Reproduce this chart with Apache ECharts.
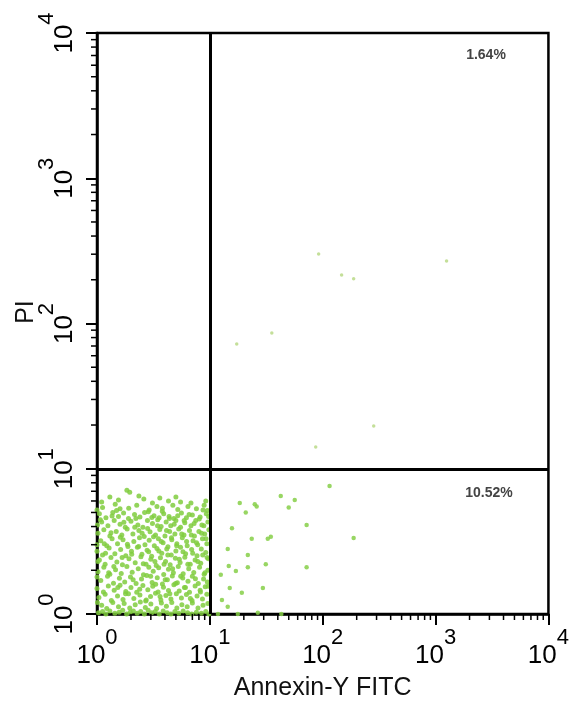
<!DOCTYPE html>
<html>
<head>
<meta charset="utf-8">
<script src="https://cdn.jsdelivr.net/npm/echarts@6/dist/echarts.min.js"></script>
<style>
  html, body { margin: 0; padding: 0; background: #fff; }
  #chart { width: 572px; height: 709px; }
</style>
</head>
<body>
<div id="chart"></div>
<script>
// Annexin V / PI flow cytometry dot plot, log-log, quadrant gates at 10.
const FONT = "'Liberation Sans', Arial, sans-serif";

const decadeExponents = [0, 1, 2, 3, 4];
const xAxisTitle = 'Annexin-Y FITC';
const yAxisTitle = 'PI';
const gateX = 10;
const gateY = 10;
const upperRightPercent = '1.64%';
const lowerRightPercent = '10.52%';

// Live cells (Annexin-, PI-)
const lowerLeft = [
  [1.84,7.1],[1.95,6.9],[3.1,5.8],[2.6,6.2],[4.3,6.0],[5.5,5.9],[8.7,5.2],[1.3,6.4],
  [1.12,5.4],[1.45,5.7],[1.6,5.3],[2.25,5.6],[2.9,5.2],[3.4,5.5],[3.8,5.35],[4.7,5.6],[5.2,5.25],[6.4,5.5],[7.6,5.3],[8.9,5.6],[9.5,5.15],
  [1.05,4.9],[1.2,4.6],[1.38,5.0],[1.55,4.7],[1.72,4.95],[1.9,4.55],[2.15,4.85],[2.4,4.65],[2.85,5.05],[3.2,4.75],[3.55,4.6],[3.9,4.9],[4.35,4.7],[4.8,4.55],[5.6,4.95],[6.2,4.6],[7.0,4.8],[8.2,4.65],[9.3,4.9],
  [1.1,4.3],[1.25,4.05],[1.42,4.4],[1.6,4.15],[1.78,3.95],[2.0,4.35],[2.3,4.1],[2.55,3.95],[2.8,4.4],[3.1,4.2],[3.45,4.45],[3.7,4.0],[4.1,4.3],[4.5,4.05],[5.0,4.4],[5.5,3.95],[6.0,4.25],[6.8,4.05],[7.5,4.4],[8.5,4.1],[9.6,4.3],
  [1.02,3.6],[1.15,3.8],[1.3,3.45],[1.48,3.7],[1.66,3.5],[1.85,3.85],[2.08,3.55],[2.35,3.75],[2.62,3.42],[2.95,3.68],[3.3,3.5],[3.6,3.82],[4.0,3.45],[4.4,3.7],[4.9,3.55],[5.3,3.85],[5.9,3.5],[6.6,3.75],[7.3,3.45],[8.0,3.7],[9.0,3.55],[9.8,3.8],
  [1.08,3.2],[1.22,2.95],[1.36,3.3],[1.52,3.05],[1.7,3.25],[1.88,2.92],[2.12,3.15],[2.38,3.35],[2.66,3.0],[2.9,3.22],[3.22,2.95],[3.5,3.3],[3.85,3.1],[4.25,2.9],[4.6,3.25],[5.1,3.05],[5.7,3.35],[6.3,2.95],[7.1,3.2],[7.8,3.0],[8.6,3.3],[9.4,3.05],
  [1.0,2.7],[1.12,2.55],[1.28,2.85],[1.44,2.6],[1.62,2.78],[1.8,2.52],[2.02,2.7],[2.28,2.88],[2.5,2.58],[2.78,2.75],[3.05,2.5],[3.4,2.82],[3.75,2.62],[4.15,2.8],[4.55,2.55],[5.0,2.72],[5.5,2.88],[6.1,2.6],[6.9,2.78],[7.7,2.52],[8.4,2.8],[9.2,2.65],
  [1.05,2.35],[1.18,2.2],[1.33,2.45],[1.5,2.28],[1.68,2.18],[1.92,2.4],[2.18,2.25],[2.45,2.48],[2.72,2.2],[3.0,2.38],[3.35,2.16],[3.65,2.44],[4.05,2.3],[4.45,2.18],[4.95,2.42],[5.45,2.26],[6.0,2.46],[6.7,2.2],[7.4,2.35],[8.3,2.24],[9.7,2.4],
  [1.02,1.95],[1.15,2.1],[1.3,1.88],[1.46,2.02],[1.64,1.9],[1.84,2.12],[2.05,1.94],[2.32,2.05],[2.58,1.86],[2.88,2.1],[3.15,1.97],[3.52,2.08],[3.9,1.87],[4.3,2.03],[4.75,1.92],[5.25,2.12],[5.8,1.89],[6.5,2.05],[7.2,1.93],[8.1,2.1],[8.9,1.88],[9.6,2.0],
  [1.08,1.7],[1.24,1.82],[1.4,1.63],[1.58,1.76],[1.76,1.66],[1.98,1.8],[2.22,1.62],[2.48,1.74],[2.76,1.84],[3.08,1.65],[3.42,1.78],[3.8,1.61],[4.2,1.72],[4.65,1.83],[5.15,1.64],[5.75,1.77],[6.4,1.68],[7.0,1.82],[7.9,1.62],[8.8,1.74],[9.5,1.66],
  [1.0,1.5],[1.14,1.42],[1.26,1.56],[1.42,1.46],[1.6,1.58],[1.8,1.43],[2.0,1.52],[2.25,1.41],[2.55,1.57],[2.82,1.47],[3.12,1.55],[3.48,1.42],[3.88,1.53],[4.3,1.45],[4.8,1.59],[5.35,1.44],[5.95,1.52],[6.6,1.41],[7.4,1.56],[8.2,1.46],[9.1,1.54],
  [1.04,1.3],[1.18,1.37],[1.34,1.24],[1.52,1.33],[1.7,1.26],[1.9,1.38],[2.12,1.28],[2.4,1.35],[2.7,1.23],[2.98,1.32],[3.3,1.39],[3.68,1.25],[4.08,1.34],[4.52,1.27],[5.05,1.38],[5.6,1.29],[6.2,1.36],[6.95,1.24],[7.7,1.33],[8.6,1.27],[9.4,1.37],
  [1.1,1.15],[1.22,1.09],[1.38,1.2],[1.55,1.12],[1.74,1.18],[1.95,1.1],[2.18,1.16],[2.42,1.21],[2.68,1.11],[3.0,1.17],[3.38,1.09],[3.72,1.19],[4.12,1.13],[4.6,1.2],[5.1,1.1],[5.65,1.16],[6.3,1.12],[7.0,1.19],[7.85,1.1],[8.7,1.15],[9.6,1.18],
  [1.03,1.02],[1.12,1.04],[1.2,1.0],[1.3,1.05],[1.44,1.01],[1.57,1.03],[1.69,1.06],[1.83,1.0],[1.97,1.03],[2.1,1.05],[2.27,1.01],[2.44,1.04],[2.63,1.0],[2.84,1.06],[3.05,1.02],[3.28,1.04],[3.56,1.0],[3.86,1.05],[4.18,1.02],[4.52,1.0],[4.9,1.04],[5.3,1.01],[5.8,1.05],[6.35,1.02],[6.9,1.0],[7.6,1.03],[8.4,1.01],[9.2,1.04],[9.8,1.0],
  [1.07,4.45],[1.16,3.05],[1.19,2.62],[1.27,1.92],[1.33,3.62],[1.36,4.72],[1.41,2.12],[1.49,5.15],[1.53,1.52],[1.61,3.38],[1.67,2.45],[1.73,4.28],[1.79,1.38],[1.86,3.02],[1.91,5.35],
  [2.03,2.58],[2.09,1.72],[2.16,3.95],[2.21,4.55],[2.34,2.92],[2.39,1.48],[2.51,3.6],[2.57,2.22],[2.64,5.0],[2.73,1.25],[2.81,3.88],[2.87,2.68],[2.99,1.82],
  [3.06,4.62],[3.17,3.4],[3.26,2.3],[3.31,1.6],[3.44,4.05],[3.53,2.72],[3.62,1.32],[3.71,3.15],[3.79,5.1],[3.93,2.2],[4.02,1.72],[4.13,3.75],[4.24,2.55],[4.38,4.55],
  [4.42,1.38],[4.57,3.35],[4.68,2.05],[4.83,4.15],[4.97,1.62],[5.08,2.95],[5.19,4.75],[5.36,2.38],[5.52,1.82],[5.63,3.55],[5.78,2.68],[5.92,4.4],[6.08,1.52],
  [6.22,3.15],[6.38,2.2],[6.55,4.85],[6.72,1.28],[6.85,3.5],[7.05,2.62],[7.25,4.2],[7.45,1.75],[7.62,3.1],[7.82,2.3],[8.05,4.5],[8.25,1.42],[8.45,3.6],[8.65,2.55],
  [8.85,4.05],[9.05,1.92],[9.25,3.3],[9.45,2.45],[9.65,1.55],[9.75,4.7],
  [1.55,6.1],[2.35,6.5],[3.6,6.3],[6.8,5.8],[9.2,6.0],[1.1,5.9],[5.0,6.4],
  [1.0,3.0],[1.01,4.1],[1.0,1.8],[1.02,2.3],[1.0,5.2],[1.01,1.2]
];

// Early apoptotic cells (Annexin+, PI-)
const lowerRight = [
  [115,7.6],[42.5,6.5],[56.5,6.1],[18.4,5.8],[25,5.7],[26,5.5],[20.8,5.0],[50,5.4],
  [72,4.1],[15.7,3.9],[23.5,3.3],[32.6,3.3],[34.7,3.4],[14.4,2.8],[21.7,2.55],[31.3,2.2],
  [21.7,2.1],[72,2.1],[14.7,2.14],[17,1.98],[12.5,1.86],[15,1.51],[29.5,1.51],[19.2,1.4],
  [12.8,1.25],[14.4,1.12],[26.6,1.02],[11.8,1.0],[17.7,1.0],[43,1.0],[188,3.33]
];

// Late apoptotic / necrotic cells (Annexin+, PI+)
const upperRight = [
  [92,301],[147,216],[188,203],[1251,269],[283,19.7],[86.7,14.1],[17.3,72.3],[35.4,86]
];

// Logarithmic minor tick positions (2..9 within each decade)
const minorTickValues = [];
decadeExponents.slice(0, -1).forEach(e => {
  for (let m = 2; m <= 9; m++) minorTickValues.push(m * Math.pow(10, e));
});

const powerLabel = v => '{b|10}{s|' + Math.round(Math.log10(v)) + '}';
const labelRich = {
  b: { fontSize: 26, lineHeight: 42, verticalAlign: 'bottom', fontFamily: FONT, color: '#000' },
  s: { fontSize: 22, lineHeight: 42, verticalAlign: 'top', fontFamily: FONT, color: '#000' }
};

const chart = echarts.init(document.getElementById('chart'), null, { renderer: 'canvas' });

const axisCommon = {
  type: 'log',
  logBase: 10,
  min: Math.pow(10, decadeExponents[0]),
  max: Math.pow(10, decadeExponents[decadeExponents.length - 1]),
  splitLine: { show: false },
  minorTick: { show: false },
  axisLine: { show: true, onZero: false, lineStyle: { color: '#000', width: 2.5 } },
  axisTick: { show: true, length: 11, lineStyle: { color: '#000', width: 2 } }
};

chart.setOption({
  animation: false,
  backgroundColor: '#fff',
  grid: {
    left: 97, right: 23, top: 33, bottom: 95,
    show: true, borderColor: '#000', borderWidth: 2.5, backgroundColor: '#fff'
  },
  xAxis: Object.assign({}, axisCommon, {
    axisLabel: { formatter: powerLabel, rich: labelRich, margin: 13 },
    name: xAxisTitle,
    nameLocation: 'middle',
    nameGap: 62,
    nameTextStyle: { fontSize: 25, fontFamily: FONT, color: '#111' }
  }),
  yAxis: Object.assign({}, axisCommon, {
    axisLabel: { formatter: powerLabel, rich: labelRich, margin: 19, rotate: 90 }
  }),
  graphic: [
    {
      type: 'text', x: 26, y: 312, rotation: Math.PI / 2,
      style: { text: yAxisTitle, font: '25px ' + FONT, fill: '#111', align: 'center', verticalAlign: 'middle' }
    },
    {
      type: 'text', x: 486, y: 55,
      style: { text: upperRightPercent, font: 'bold 14px ' + FONT, fill: '#444', align: 'center', verticalAlign: 'middle' }
    },
    {
      type: 'text', x: 489, y: 493,
      style: { text: lowerRightPercent, font: 'bold 14px ' + FONT, fill: '#444', align: 'center', verticalAlign: 'middle' }
    }
  ],
  series: [
    {
      type: 'scatter', name: 'Q3', data: lowerLeft, symbolSize: 5,
      itemStyle: { color: '#80cd3e', opacity: 0.85 }, silent: true,
      markLine: {
        silent: true, animation: false, symbol: ['none', 'none'],
        label: { show: false },
        lineStyle: { color: '#000', width: 3, type: 'solid' },
        data: [{ xAxis: gateX }, { yAxis: gateY }]
      }
    },
    { type: 'scatter', name: 'Q4', data: lowerRight, symbolSize: 4.5, itemStyle: { color: '#86cf48', opacity: 0.85 }, silent: true },
    { type: 'scatter', name: 'Q2', data: upperRight, symbolSize: 3.5, itemStyle: { color: '#bedb8e', opacity: 0.9 }, silent: true },
    {
      type: 'custom', name: 'minorTicks', silent: true, clip: false, z: 5,
      data: minorTickValues.map(v => [v, v]),
      renderItem: (params, api) => {
        const v = api.value(0);
        const px = api.coord([v, 1]);
        const py = api.coord([1, v]);
        return {
          type: 'group',
          children: [
            { type: 'line', shape: { x1: px[0], y1: px[1], x2: px[0], y2: px[1] + 6 }, style: { stroke: '#000', lineWidth: 1.5 } },
            { type: 'line', shape: { x1: py[0] - 6, y1: py[1], x2: py[0], y2: py[1] }, style: { stroke: '#000', lineWidth: 1.5 } }
          ]
        };
      }
    }
  ]
});
</script>
</body>
</html>
